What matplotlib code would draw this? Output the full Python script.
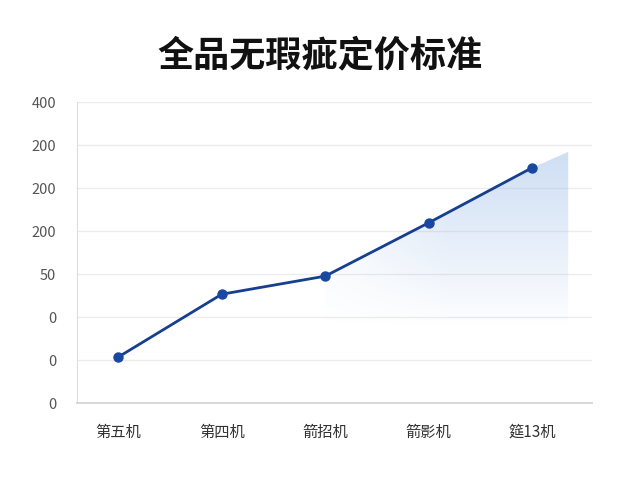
import numpy as np
import matplotlib
matplotlib.use("Agg")
import matplotlib.pyplot as plt
from matplotlib.patches import Polygon

plt.rcParams['font.family'] = ['Noto Sans CJK SC', 'DejaVu Sans']

# data
machines = ['第五机', '第四机', '箭招机', '箭影机', '筵13机']
values = [1.07, 2.53, 2.95, 4.19, 5.47]
tick_pos = [0, 1, 2, 3, 4, 5, 6, 7]
tick_labels = ['0', '0', '0', '50', '200', '200', '200', '400']
shade_end = (4.35, 5.84)

x = np.arange(len(machines))

fig = plt.figure(figsize=(6.4, 4.8), dpi=100)
ax = fig.add_axes([0.1203, 0.1604, 0.8047, 0.6271])

ax.set_xlim(-0.40, 4.58)
ax.set_ylim(0, 7)

# gradient shaded area from the third point onwards
verts = [(x[i], values[i]) for i in range(2, len(x))] + [shade_end, (shade_end[0], 0), (x[2], 0)]
poly = Polygon(verts, closed=True, facecolor='none', edgecolor='none')
ax.add_patch(poly)
gx = np.linspace(x[2], shade_end[0], 300)
gy = np.linspace(0, 7, 300)
GX, GY = np.meshgrid(gx, gy)
a_y = np.clip((GY - 1.8) / 4.0, 0, 1) ** 0.9
a_x = np.clip((GX - x[2]) / 1.2, 0, 1)
alpha = 0.42 * a_y * (0.25 + 0.75 * a_x)
img = np.zeros(GX.shape + (4,))
img[..., 0] = 0.55
img[..., 1] = 0.70
img[..., 2] = 0.90
img[..., 3] = alpha
im = ax.imshow(img, extent=[x[2], shade_end[0], 0, 7], origin='lower',
               aspect='auto', zorder=1)
im.set_clip_path(poly)

ax.plot(x, values, color='#163f8f', linewidth=2, marker='o',
        markersize=6.5, markerfacecolor='#1a48a0', markeredgecolor='#1a48a0', zorder=3)

ax.set_yticks(tick_pos)
ax.set_yticklabels(tick_labels, fontsize=10.5, color='#555555')
ax.set_xticks(x)
ax.set_xticklabels(machines, fontsize=11, color='#333333')
ax.tick_params(length=0)
ax.tick_params(axis='y', pad=15)
ax.tick_params(axis='x', pad=15)

ax.grid(axis='y', color='#ececec', linewidth=1)
ax.set_axisbelow(True)
for s in ['top', 'right']:
    ax.spines[s].set_visible(False)
ax.spines['left'].set_color('#dddddd')
ax.spines['bottom'].set_color('#d5d5d5')
ax.spines['bottom'].set_linewidth(1.3)

fig.text(0.5, 0.884, '全品无瑕疵定价标准', ha='center', va='center',
         fontsize=26, fontweight='bold', color='#111111')

fig.savefig('out.png', dpi=100)
